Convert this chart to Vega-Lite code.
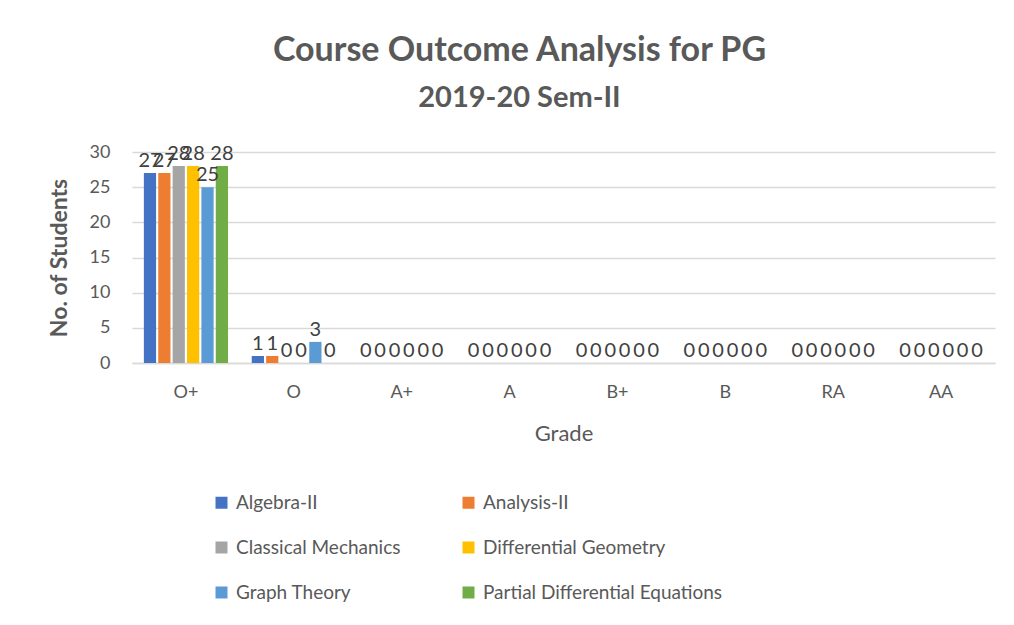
{
  "$schema": "https://vega.github.io/schema/vega-lite/v6.json",
  "width": 863,
  "height": 211,
  "autosize": {"type": "none"},
  "padding": {"left": 132, "top": 152, "right": 19, "bottom": 262},
  "background": "white",
  "title": {
    "text": "Course Outcome Analysis for PG",
    "subtitle": "2019-20 Sem-II",
    "font": "Lato",
    "fontSize": 34,
    "fontWeight": "bold",
    "color": "#595959",
    "subtitleFont": "Lato",
    "subtitleFontSize": 29,
    "subtitleFontWeight": "bold",
    "subtitleColor": "#595959",
    "subtitlePadding": 16,
    "anchor": "middle",
    "dx": -44,
    "offset": 30
  },
  "data": {
    "values": [
      {"grade": "O+", "course": "Algebra-II", "count": 27},
      {"grade": "O+", "course": "Analysis-II", "count": 27},
      {"grade": "O+", "course": "Classical Mechanics", "count": 28},
      {"grade": "O+", "course": "Differential Geometry", "count": 28},
      {"grade": "O+", "course": "Graph Theory", "count": 25},
      {"grade": "O+", "course": "Partial Differential Equations", "count": 28},
      {"grade": "O", "course": "Algebra-II", "count": 1},
      {"grade": "O", "course": "Analysis-II", "count": 1},
      {"grade": "O", "course": "Classical Mechanics", "count": 0},
      {"grade": "O", "course": "Differential Geometry", "count": 0},
      {"grade": "O", "course": "Graph Theory", "count": 3},
      {"grade": "O", "course": "Partial Differential Equations", "count": 0},
      {"grade": "A+", "course": "Algebra-II", "count": 0},
      {"grade": "A+", "course": "Analysis-II", "count": 0},
      {"grade": "A+", "course": "Classical Mechanics", "count": 0},
      {"grade": "A+", "course": "Differential Geometry", "count": 0},
      {"grade": "A+", "course": "Graph Theory", "count": 0},
      {"grade": "A+", "course": "Partial Differential Equations", "count": 0},
      {"grade": "A", "course": "Algebra-II", "count": 0},
      {"grade": "A", "course": "Analysis-II", "count": 0},
      {"grade": "A", "course": "Classical Mechanics", "count": 0},
      {"grade": "A", "course": "Differential Geometry", "count": 0},
      {"grade": "A", "course": "Graph Theory", "count": 0},
      {"grade": "A", "course": "Partial Differential Equations", "count": 0},
      {"grade": "B+", "course": "Algebra-II", "count": 0},
      {"grade": "B+", "course": "Analysis-II", "count": 0},
      {"grade": "B+", "course": "Classical Mechanics", "count": 0},
      {"grade": "B+", "course": "Differential Geometry", "count": 0},
      {"grade": "B+", "course": "Graph Theory", "count": 0},
      {"grade": "B+", "course": "Partial Differential Equations", "count": 0},
      {"grade": "B", "course": "Algebra-II", "count": 0},
      {"grade": "B", "course": "Analysis-II", "count": 0},
      {"grade": "B", "course": "Classical Mechanics", "count": 0},
      {"grade": "B", "course": "Differential Geometry", "count": 0},
      {"grade": "B", "course": "Graph Theory", "count": 0},
      {"grade": "B", "course": "Partial Differential Equations", "count": 0},
      {"grade": "RA", "course": "Algebra-II", "count": 0},
      {"grade": "RA", "course": "Analysis-II", "count": 0},
      {"grade": "RA", "course": "Classical Mechanics", "count": 0},
      {"grade": "RA", "course": "Differential Geometry", "count": 0},
      {"grade": "RA", "course": "Graph Theory", "count": 0},
      {"grade": "RA", "course": "Partial Differential Equations", "count": 0},
      {"grade": "AA", "course": "Algebra-II", "count": 0},
      {"grade": "AA", "course": "Analysis-II", "count": 0},
      {"grade": "AA", "course": "Classical Mechanics", "count": 0},
      {"grade": "AA", "course": "Differential Geometry", "count": 0},
      {"grade": "AA", "course": "Graph Theory", "count": 0},
      {"grade": "AA", "course": "Partial Differential Equations", "count": 0}
    ]
  },
  "encoding": {
    "x": {
      "field": "grade",
      "type": "nominal",
      "sort": ["O+", "O", "A+", "A", "B+", "B", "RA", "AA"],
      "scale": {"paddingInner": 0.22, "paddingOuter": 0.11},
      "axis": {
        "title": "Grade",
        "labelAngle": 0,
        "labelFont": "Lato",
        "labelFontSize": 18,
        "labelColor": "#595959",
        "labelPadding": 20,
        "titleFont": "Lato",
        "titleFontSize": 22,
        "titleFontWeight": "normal",
        "titleColor": "#595959",
        "titlePadding": 22,
        "ticks": false,
        "domain": true,
        "domainColor": "#d9d9d9",
        "domainWidth": 1.5
      }
    },
    "xOffset": {
      "field": "course",
      "type": "nominal",
      "sort": ["Algebra-II", "Analysis-II", "Classical Mechanics", "Differential Geometry", "Graph Theory", "Partial Differential Equations"],
      "scale": {"paddingInner": 0.15}
    },
    "y": {
      "field": "count",
      "type": "quantitative",
      "scale": {"domain": [0, 30]},
      "axis": {
        "title": "No. of Students",
        "values": [0, 5, 10, 15, 20, 25, 30],
        "labelFont": "Lato",
        "labelFontSize": 18,
        "labelColor": "#595959",
        "labelPadding": 22,
        "titleFont": "Lato",
        "titleFontSize": 23,
        "titleFontWeight": "bold",
        "titleColor": "#595959",
        "titlePadding": 18,
        "ticks": false,
        "domain": false,
        "gridColor": "#d9d9d9",
        "gridWidth": 1.5
      }
    }
  },
  "layer": [
    {
      "mark": {"type": "bar"},
      "encoding": {
        "color": {
          "field": "course",
          "type": "nominal",
          "sort": ["Algebra-II", "Analysis-II", "Classical Mechanics", "Differential Geometry", "Graph Theory", "Partial Differential Equations"],
          "scale": {
            "domain": ["Algebra-II", "Analysis-II", "Classical Mechanics", "Differential Geometry", "Graph Theory", "Partial Differential Equations"],
            "range": ["#4472C4", "#ED7D31", "#A5A5A5", "#FFC000", "#5B9BD5", "#70AD47"]
          },
          "legend": {
            "title": null,
            "orient": "none",
            "legendX": 80,
            "legendY": 341,
            "direction": "horizontal",
            "columns": 2,
            "symbolType": "square",
            "symbolSize": 144,
            "symbolStrokeWidth": 0,
            "labelFont": "Lato",
            "labelFontSize": 19,
            "labelColor": "#595959",
            "labelLimit": 400,
            "labelOffset": 5,
            "rowPadding": 25,
            "columnPadding": 58
          }
        }
      }
    },
    {
      "mark": {"type": "text", "baseline": "bottom", "dy": -2, "font": "Lato", "fontSize": 20, "color": "#404040"},
      "encoding": {
        "text": {"field": "count", "type": "quantitative"}
      }
    }
  ],
  "config": {
    "view": {"stroke": null}
  }
}
